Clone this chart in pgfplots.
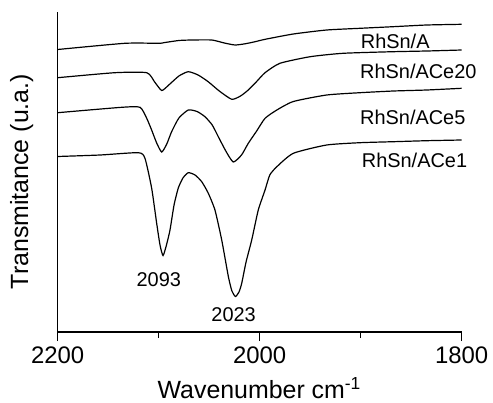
\documentclass[border=0pt]{standalone}
\usepackage{fontspec}
\setmainfont{Liberation Sans}
\usepackage{pgfplots}
\pgfplotsset{compat=1.18}
\begin{document}
\begin{tikzpicture}
\path (-57.7bp,-71bp) rectangle (435.3bp,332bp);
\begin{axis}[
  at={(0,0)}, anchor=south west,
  width=404bp, height=320bp, scale only axis,
  xmin=1800, xmax=2200, ymin=0, ymax=320,
  x dir=reverse,
  axis x line=bottom, axis y line=left,
  axis line style={-, line width=1.6bp},
  clip=false,
  xtick={2200,2000,1800},
  xticklabels={2200,2000,1800},
  minor xtick={2200,2100,2000,1900,1800},
  ytick=\empty,
  tick align=outside,
  major tick length=9bp,
  minor tick length=6bp,
  tick style={line width=1.4bp, black},
  /pgf/number format/assume math mode=true,
  xticklabel style={font=\fontsize{24}{24}\selectfont, inner sep=0pt, anchor=base, yshift=-22bp},
  xlabel={Wavenumber cm\textsuperscript{-1}},
  xlabel style={font=\fontsize{25}{25}\selectfont, at={(axis description cs:0.499,-0.208)}, anchor=base},
  ylabel={Transmitance (u.a.)},
  ylabel style={font=\fontsize{25}{25}\selectfont, at={(axis description cs:-0.089,0.47)}, anchor=center, rotate=0},
]
% RhSn/A
\addplot[black, line width=1.2bp, smooth, tension=0.35] coordinates {
(2200,282.5) (2133.4,288.7) (2100,288.7) (2093.8,289.5) (2080,291.5) (2067.3,292) (2047.5,292)
(2035,289) (2024.3,287) (2014,288.3) (2004.5,290.3) (1994.6,292.7) (1966.7,298)
(1933.7,302) (1900.7,303.7) (1868,305.3) (1834.6,307) (1800,307.7)};
% RhSn/ACe20
\addplot[black, line width=1.2bp, smooth, tension=0.35] coordinates {
(2200,254.3) (2143.4,259.3) (2111.9,259.3) (2104,250) (2097,241.5) (2090,247)
(2080,256) (2070.7,260.3) (2061,257) (2051,250.3) (2040,241) (2027.7,232.7)
(2019,236) (2011.3,242) (2003,250.5) (1994.7,259.3) (1980,268.7) (1950,275.3)
(1917.5,278.7) (1868,280.3) (1834.6,281) (1800,282)};
% RhSn/ACe5
\addplot[black, line width=1.2bp, smooth, tension=0.35] coordinates {
(2200,219.3) (2136.6,224.7) (2118.5,224.7) (2112,214) (2107,202) (2102,189) (2097,180)
(2092,188) (2087.2,200.3) (2080,214) (2070.7,222) (2062,220.5) (2054.2,215.3)
(2047,207) (2041,195.3) (2033,180) (2026.1,170) (2018,177) (2011.3,188.7)
(2003,201) (1994.7,213.7) (1983,222) (1966.7,230.5) (1933.7,237) (1900.7,239.3)
(1867.6,241) (1834.6,242) (1800,243.7)};
% RhSn/ACe1
\addplot[black, line width=1.2bp, smooth, tension=0.35] coordinates {
(2200,175.5) (2158,177) (2120.2,179.3) (2113.6,173.7) (2107,144) (2102,108.7)
(2098.7,87) (2095.7,76.5) (2092.3,87) (2088.8,102) (2084.8,127) (2080.6,144)
(2076,154) (2070.7,159.3) (2064,157) (2057.4,150.3) (2051,139) (2044.3,122)
(2037.6,92) (2031,55.3) (2027.5,41) (2024,35.5) (2020.5,40) (2017.8,48.7)
(2013.5,70) (2007.9,92) (2001.4,122) (1994.7,142) (1990,157) (1983,165.3)
(1966.7,178.7) (1933.7,187) (1900.7,189.3) (1867.6,190.3) (1834.6,191.3) (1800,192)};
\node[anchor=base west, inner sep=0pt, font=\fontsize{20}{20}\selectfont] at (axis cs:1900,283.7) {RhSn/A};
\node[anchor=base west, inner sep=0pt, font=\fontsize{20}{20}\selectfont] at (axis cs:1900.7,253.7) {RhSn/ACe20};
\node[anchor=base west, inner sep=0pt, font=\fontsize{20}{20}\selectfont] at (axis cs:1900.7,208) {RhSn/ACe5};
\node[anchor=base west, inner sep=0pt, font=\fontsize{20}{20}\selectfont] at (axis cs:1899,164.5) {RhSn/ACe1};
\node[anchor=center, inner sep=0pt, font=\fontsize{20}{20}\selectfont] at (axis cs:2099.9,52.7) {2093};
\node[anchor=center, inner sep=0pt, font=\fontsize{20}{20}\selectfont] at (axis cs:2025.8,17) {2023};
\end{axis}
\end{tikzpicture}
\end{document}
